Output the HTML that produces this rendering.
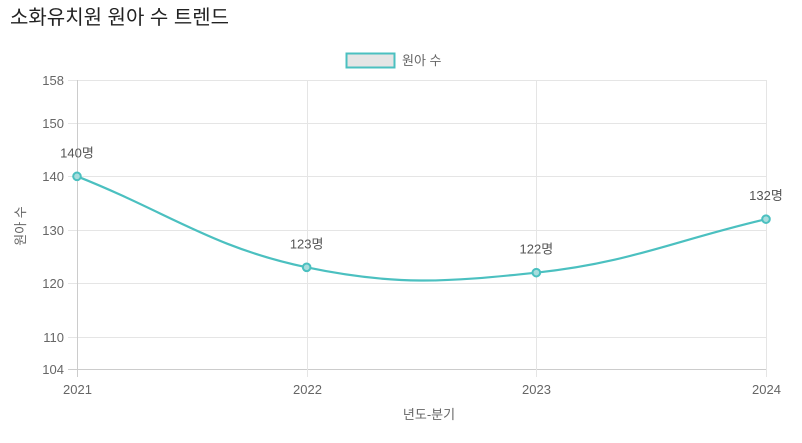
<!DOCTYPE html>
<html><head><meta charset="utf-8"><style>
body{margin:0;background:#fff;width:802px;height:438px;overflow:hidden;font-family:"Liberation Sans","Noto Sans CJK KR",sans-serif}
</style></head><body>
<svg id="c" width="802" height="438" font-family="Liberation Sans, Noto Sans CJK KR, sans-serif">
<text x="10" y="24" font-size="20" fill="#222">소화유치원 원아 수 트렌드</text>
<g>
<rect x="346.5" y="53.5" width="48" height="14" fill="#e5e5e5" stroke="#4bc0c0" stroke-width="2"/>
<text x="402" y="65" font-size="13" fill="#666">원아 수</text>
</g>
<g id="grid"></g><g id="plot"></g>
<text x="429" y="419" font-size="13" fill="#666" text-anchor="middle">년도-분기</text>
<text transform="translate(25,226) rotate(-90)" font-size="13" fill="#666" text-anchor="middle">원아 수</text>
</svg>
<script>
const categories=["2021","2022","2023","2024"];
const values=[140,123,122,132];
const yTicks=[104,110,120,130,140,150,158];
const NS="http://www.w3.org/2000/svg";
const X0=77,X1=766,Y0=369,Y1=80,YMIN=104,YMAX=158;
const xs=i=>X0+(X1-X0)*i/(categories.length-1);
const ys=v=>Y0-(v-YMIN)*(Y0-Y1)/(YMAX-YMIN);
function mk(t,a,p){const e=document.createElementNS(NS,t);for(const k in a)e.setAttribute(k,a[k]);p.appendChild(e);return e;}
const g=document.getElementById('grid'),pl=document.getElementById('plot');
yTicks.forEach(v=>{const y=Math.round(ys(v))+0.5;
const l=mk('line',{x1:68,x2:X1,y1:y,y2:y,stroke:v===YMIN?'#ccc':'#e5e5e5'},g);

const t=mk('text',{x:64,y:y+4.5,'font-size':13,fill:'#666','text-anchor':'end'},g);t.textContent=v;
});
categories.forEach((c,i)=>{const x=Math.round(xs(i))+0.5;
const l=mk('line',{x1:x,x2:x,y1:Y1,y2:Y0+8,stroke:i===0?'#ccc':'#e5e5e5'},g);

const t=mk('text',{x:x,y:Y0+25,'font-size':13,fill:'#666','text-anchor':'middle'},g);t.textContent=c;
});
const pts=values.map((v,i)=>[xs(i),ys(v)]);
const T=0.4;const cps=pts.map((p,i)=>{const pr=pts[Math.max(i-1,0)],nx=pts[Math.min(i+1,pts.length-1)];
const d01=Math.hypot(p[0]-pr[0],p[1]-pr[1]),d12=Math.hypot(nx[0]-p[0],nx[1]-p[1]);
let s01=d01/(d01+d12),s12=d12/(d01+d12);if(isNaN(s01))s01=0;if(isNaN(s12))s12=0;
const fa=T*s01,fb=T*s12;const cl=y=>Math.min(Math.max(y,Y1),Y0);
return {p:[p[0]-fa*(nx[0]-pr[0]),cl(p[1]-fa*(nx[1]-pr[1]))],n:[p[0]+fb*(nx[0]-pr[0]),cl(p[1]+fb*(nx[1]-pr[1]))]};});
let d='M'+pts[0][0]+','+pts[0][1];
for(let i=0;i<pts.length-1;i++){const a=cps[i].n,b=cps[i+1].p,e=pts[i+1];d+=` C${a[0]},${a[1]} ${b[0]},${b[1]} ${e[0]},${e[1]}`;}
const line=mk('path',{d:d,fill:'none',stroke:'#4bc0c0','stroke-width':2.2},pl);

pts.forEach((p,i)=>{const c=mk('circle',{cx:p[0],cy:p[1],r:3.8,fill:'#a8dddd',stroke:'#4bc0c0','stroke-width':2},pl);

const t=mk('text',{x:Math.min(p[0],766),y:p[1]-19,'font-size':13,fill:'#555','text-anchor':'middle'},pl);t.textContent=values[i]+'명';
});
</script>
</body></html>
